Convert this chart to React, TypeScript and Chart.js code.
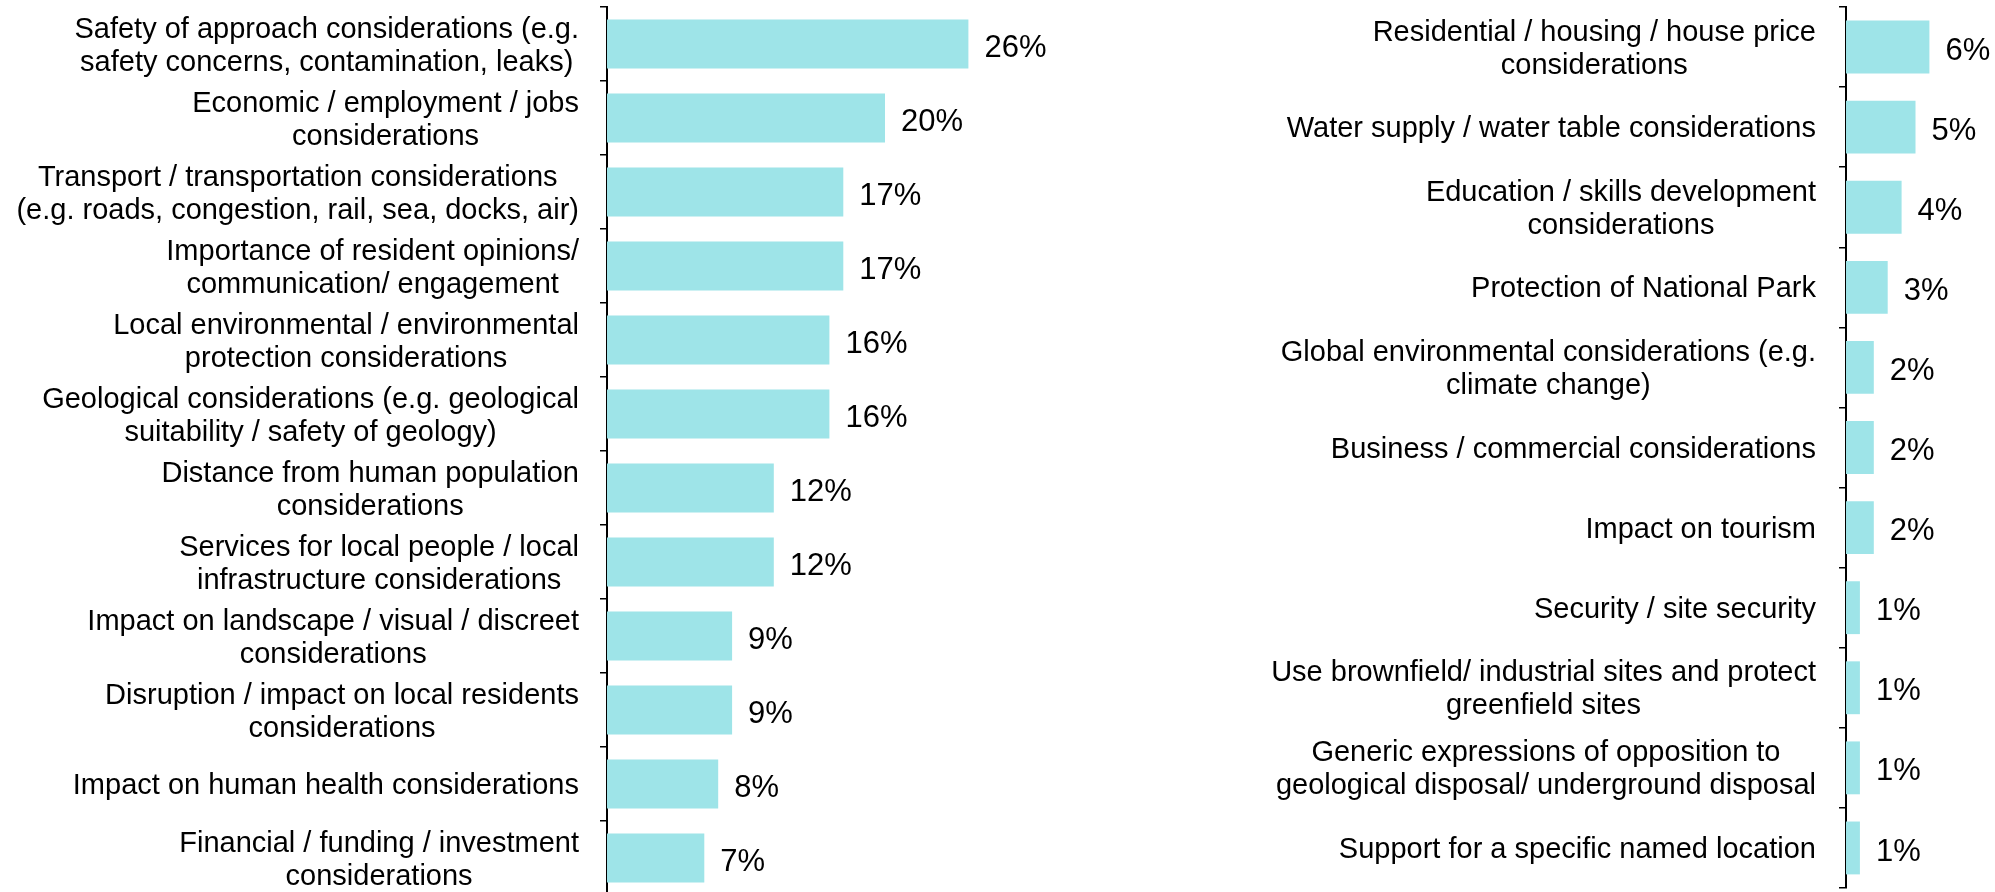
import React, { useEffect, useRef } from "react";
import { Chart, registerables } from "chart.js";

Chart.register(...registerables);

const leftCategories: string[][] = [
  ["Safety of approach considerations (e.g.", "safety concerns, contamination, leaks)"],
  ["Economic / employment / jobs", "considerations"],
  ["Transport / transportation considerations", "(e.g. roads, congestion, rail, sea, docks, air)"],
  ["Importance of resident opinions/", "communication/ engagement"],
  ["Local environmental / environmental", "protection considerations"],
  ["Geological considerations (e.g. geological", "suitability / safety of geology)"],
  ["Distance from human population", "considerations"],
  ["Services for local people / local", "infrastructure considerations"],
  ["Impact on landscape / visual / discreet", "considerations"],
  ["Disruption / impact on local residents", "considerations"],
  ["Impact on human health considerations"],
  ["Financial / funding / investment", "considerations"],
];
const leftValues: number[] = [26, 20, 17, 17, 16, 16, 12, 12, 9, 9, 8, 7];

const rightCategories: string[][] = [
  ["Residential / housing / house price", "considerations"],
  ["Water supply / water table considerations"],
  ["Education / skills development", "considerations"],
  ["Protection of National Park"],
  ["Global environmental considerations (e.g.", "climate change)"],
  ["Business / commercial considerations"],
  ["Impact on tourism"],
  ["Security / site security"],
  ["Use brownfield/ industrial sites and protect", "greenfield sites"],
  ["Generic expressions of opposition to", "geological disposal/ underground disposal"],
  ["Support for a specific named location"],
];
const rightValues: number[] = [6, 5, 4, 3, 2, 2, 2, 1, 1, 1, 1];

const BAR_COLOR = "#9EE4E8";
const FONT_FAMILY = '"Liberation Sans", Arial, sans-serif';

function makeLabelPlugin(cats: string[][], gap: number) {
  return {
    id: "catLabels",
    afterDraw(chart: any) {
      const { ctx } = chart;
      const yScale = chart.scales.y;
      const left = chart.chartArea.left;
      const lh = 33;
      ctx.save();
      ctx.font = `29px ${FONT_FAMILY}`;
      ctx.fillStyle = "#000";
      ctx.textBaseline = "middle";
      ctx.textAlign = "center";
      cats.forEach((lines, i) => {
        const cy = yScale.getPixelForValue(i);
        const w = Math.max(...lines.map((l) => ctx.measureText(l).width));
        const cx = left - gap - w / 2;
        const n = lines.length;
        lines.forEach((l, j) => {
          ctx.fillText(l, cx, cy + (j - (n - 1) / 2) * lh + 2);
        });
      });
      ctx.restore();
    },
  };
}

const valueLabelPlugin = {
  id: "valueLabels",
  afterDatasetsDraw(chart: any) {
    const { ctx } = chart;
    const meta = chart.getDatasetMeta(0);
    const vals = chart.data.datasets[0].data as number[];
    ctx.save();
    ctx.font = `31px ${FONT_FAMILY}`;
    ctx.fillStyle = "#000";
    ctx.textBaseline = "middle";
    ctx.textAlign = "left";
    meta.data.forEach((bar: any, i: number) => {
      ctx.fillText(`${vals[i]}%`, bar.x + 16, bar.y + 4);
    });
    ctx.restore();
  },
};

function BarPanel(props: {
  cats: string[][];
  values: number[];
  max: number;
  axisWidth: number;
  padTop: number;
  padBottom: number;
  padRight: number;
  gap: number;
  style: React.CSSProperties;
}) {
  const ref = useRef<HTMLCanvasElement | null>(null);
  useEffect(() => {
    if (!ref.current) return;
    const chart = new Chart(ref.current, {
      type: "bar",
      data: {
        labels: props.cats.map((c) => c.join(" ")),
        datasets: [
          {
            data: props.values,
            backgroundColor: BAR_COLOR,
            borderWidth: 0,
            barPercentage: 0.66,
            categoryPercentage: 1,
          },
        ],
      },
      options: {
        indexAxis: "y",
        animation: false,
        responsive: true,
        maintainAspectRatio: false,
        events: [],
        layout: {
          padding: { top: props.padTop, bottom: props.padBottom, right: props.padRight, left: 0 },
        },
        plugins: {
          legend: { display: false },
          tooltip: { enabled: false },
        },
        scales: {
          x: { display: false, min: 0, max: props.max },
          y: {
            type: "category",
            offset: true,
            afterFit: (s: any) => {
              s.width = props.axisWidth;
            },
            ticks: { display: false },
            grid: {
              display: true,
              drawOnChartArea: false,
              drawTicks: true,
              tickLength: 7,
              color: "#000",
              lineWidth: 1.5,
              offset: true,
            },
            border: { display: true, color: "#000", width: 2 },
          },
        },
      } as any,
      plugins: [makeLabelPlugin(props.cats, props.gap), valueLabelPlugin],
    });
    return () => chart.destroy();
  }, []);
  return (
    <div style={{ position: "absolute", ...props.style }}>
      <canvas ref={ref} />
    </div>
  );
}

export default function App() {
  return (
    <div
      style={{
        position: "fixed",
        left: 0,
        top: 0,
        width: 1995,
        height: 892,
        overflow: "hidden",
        background: "#fff",
      }}
    >
      <BarPanel
        cats={leftCategories}
        values={leftValues}
        max={30}
        axisWidth={607}
        padTop={7}
        padBottom={5}
        padRight={36}
        gap={28}
        style={{ left: 0, top: 0, width: 1060, height: 900 }}
      />
      <BarPanel
        cats={rightCategories}
        values={rightValues}
        max={10}
        axisWidth={766}
        padTop={7}
        padBottom={4}
        padRight={10}
        gap={30}
        style={{ left: 1080, top: 0, width: 915, height: 892 }}
      />
    </div>
  );
}
